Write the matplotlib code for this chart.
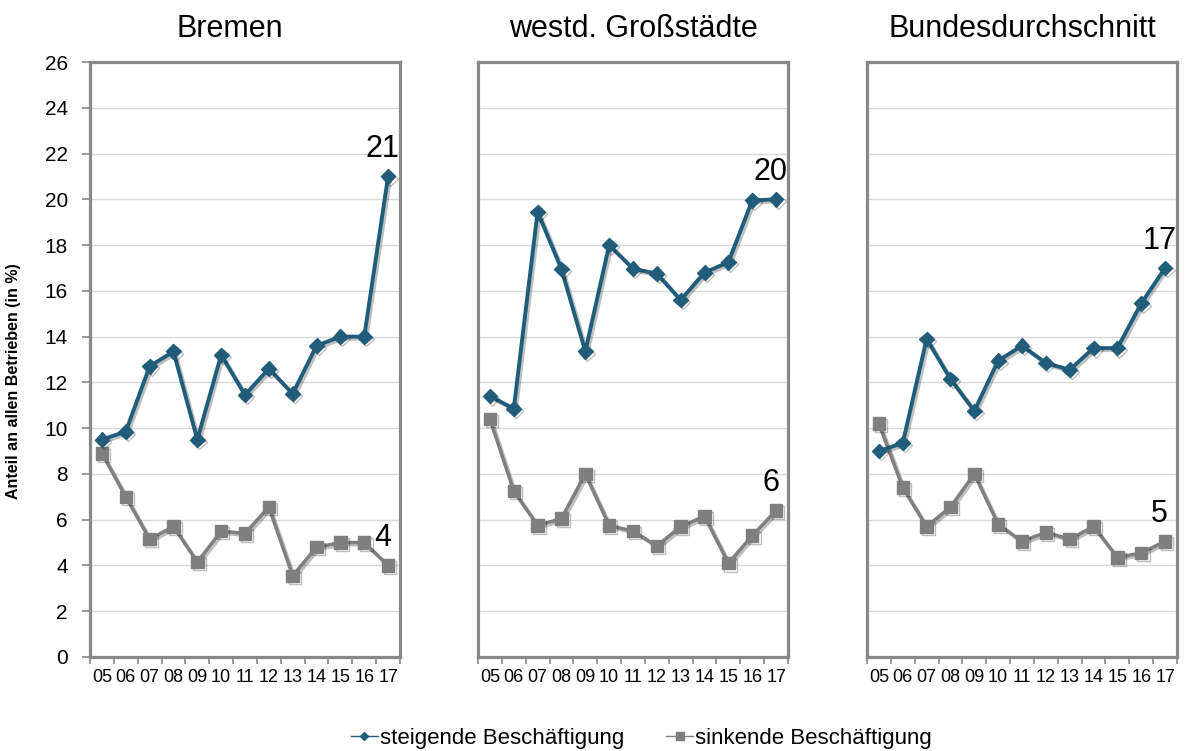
import matplotlib
matplotlib.use("Agg")
import matplotlib.pyplot as plt
import matplotlib.patheffects as pe
from matplotlib.lines import Line2D

plt.rcParams['font.family'] = ['Liberation Sans', 'DejaVu Sans']

# Jahre (Kategorien)
years = ['05', '06', '07', '08', '09', '10', '11', '12', '13', '14', '15', '16', '17']
titles = ['Bremen', 'westd. Großstädte', 'Bundesdurchschnitt']

# steigende Beschäftigung
bremen_up = [9.5, 9.85, 12.7, 13.35, 9.5, 13.2, 11.45, 12.6, 11.5, 13.6, 14.0, 14.0, 21.0]
gross_up = [11.4, 10.85, 19.45, 16.95, 13.35, 18.0, 16.97, 16.75, 15.6, 16.8, 17.25, 19.95, 20.0]
bund_up = [9.0, 9.35, 13.9, 12.15, 10.75, 12.95, 13.6, 12.85, 12.55, 13.5, 13.5, 15.45, 17.0]

# sinkende Beschäftigung
bremen_down = [8.9, 7.0, 5.15, 5.7, 4.15, 5.5, 5.4, 6.55, 3.55, 4.8, 5.0, 5.0, 4.0]
gross_down = [10.4, 7.25, 5.75, 6.05, 8.0, 5.75, 5.5, 4.85, 5.7, 6.15, 4.1, 5.3, 6.4]
bund_down = [10.2, 7.4, 5.7, 6.55, 8.0, 5.8, 5.05, 5.45, 5.15, 5.7, 4.35, 4.55, 5.05]

# Endwert-Beschriftungen
end_up = ['21', '20', '17']
end_down = ['4', '6', '5']

ups = [bremen_up, gross_up, bund_up]
downs = [bremen_down, gross_down, bund_down]

blue = '#215d7b'
grey = '#7f7f7f'
frame = '#888888'

fig = plt.figure(figsize=(11.86, 7.51), dpi=100)

lefts = [90, 478, 867]
title_x = [0.452, 0.5, 0.5]
W, H = 1186, 751
x = list(range(len(years)))

shadow = [pe.SimpleLineShadow(offset=(1.5, -1.5), alpha=0.25, shadow_color='k'), pe.Normal()]

for i in range(3):
    ax = fig.add_axes([lefts[i] / W, (H - 657) / H, 310 / W, 595 / H])
    ax.plot(x, ups[i], color=blue, lw=2.8, marker='D', ms=7.5, path_effects=shadow, zorder=4)
    ax.plot(x, downs[i], color=grey, lw=2.5, marker='s', ms=9, path_effects=shadow, zorder=3)

    ax.set_xlim(-0.5, 12.5)
    ax.set_ylim(0, 26)
    ax.set_yticks(range(0, 27, 2))
    ax.grid(axis='y', color='#d9d9d9', lw=1)
    ax.set_axisbelow(True)

    ax.set_xticks(x)
    ax.set_xticklabels(years, fontsize=13)
    ax.set_xticks([v - 0.5 for v in range(len(years) + 1)], minor=True)
    ax.tick_params(axis='x', which='major', length=0, pad=9)
    ax.tick_params(axis='x', which='minor', length=5, width=1.2, color=frame, direction='out')

    for s in ax.spines.values():
        s.set_color(frame)
        s.set_linewidth(2.3)

    if i == 0:
        ax.tick_params(axis='y', labelsize=15, length=6, width=1.2, color=frame, pad=10)
        ax.set_ylabel('Anteil an allen Betrieben (in %)', fontsize=11.5, fontweight='bold')
        ax.yaxis.set_label_coords(-0.223, 0.463)
    else:
        ax.tick_params(axis='y', left=False, labelleft=False)

    ax.set_title(titles[i], fontsize=22, pad=18, x=title_x[i])

    ax.annotate(end_up[i], (x[-1], ups[i][-1]), xytext=(-4, 14), textcoords='offset points',
                ha='center', va='baseline', fontsize=22)
    ax.annotate(end_down[i], (x[-1], downs[i][-1]), xytext=(-4, 14), textcoords='offset points',
                ha='center', va='baseline', fontsize=22)

handles = [
    Line2D([], [], color=blue, lw=1, marker='D', ms=4.5),
    Line2D([], [], color=grey, lw=1, marker='s', ms=5.5),
]
fig.legend(handles, ['steigende Beschäftigung', 'sinkende Beschäftigung'],
           loc='center', bbox_to_anchor=(0.541, 0.017), ncol=2, frameon=False,
           fontsize=16, handlelength=1.2, handletextpad=0.1, columnspacing=1.9)

fig.savefig('out.png', dpi=100)
